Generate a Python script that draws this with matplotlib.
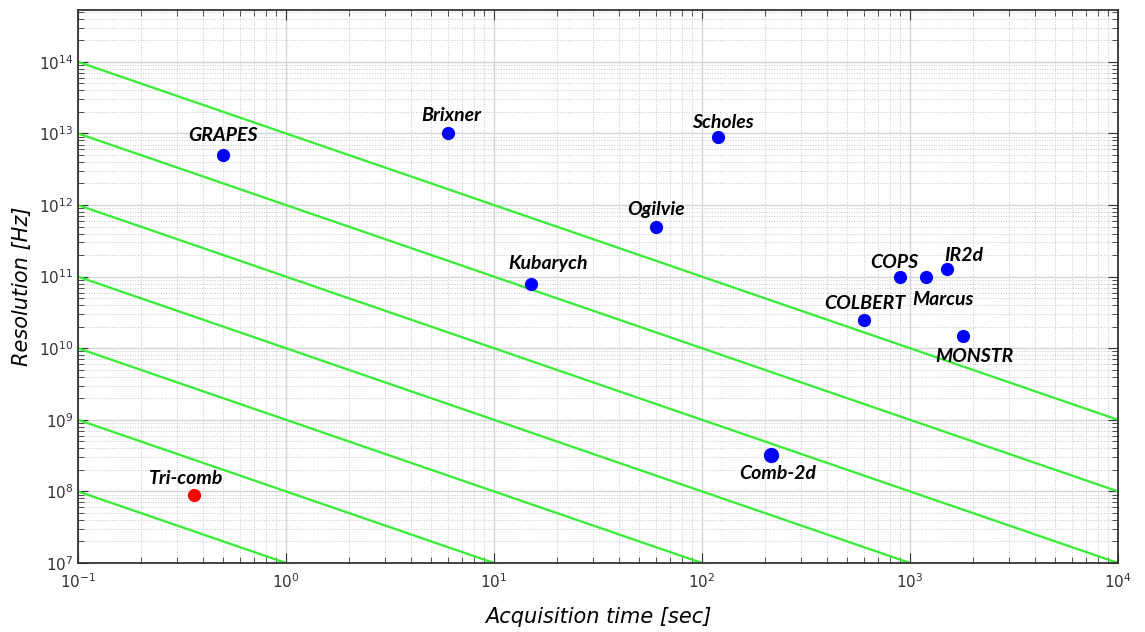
import numpy as np
import matplotlib
matplotlib.use("Agg")
import matplotlib.pyplot as plt

# experiments: acquisition time [s], resolution [Hz]
names = ["GRAPES", "Brixner", "Scholes", "Ogilvie", "Kubarych", "COPS",
         "Marcus", "IR2d", "COLBERT", "MONSTR", "Comb-2d", "Tri-comb"]
t_acq = [0.5, 6, 120, 60, 15, 900, 1200, 1500, 600, 1800, 215, 0.36]
res = [5e12, 1e13, 9e12, 5e11, 8e10, 1e11, 1e11, 1.26e11, 2.5e10, 1.5e10, 3.2e8, 9e7]
# label offsets in pixels (dx, dy)
lab_off = [(0, 19), (3, 18), (4, 14), (0, 17), (17, 20), (-6, 14),
           (16, -23), (17, 14), (1, 16), (11, -21), (6, -18), (-8, 16)]

# iso lines resolution * time = const
iso_const = [1e13, 1e12, 1e11, 1e10, 1e9, 1e8, 1e7]

fig = plt.figure(figsize=(11.45, 6.32), dpi=100)
ax = fig.add_axes([78/1145, 1 - 563/632, (1118-78)/1145, (563-10)/632])
ax.set_xscale("log")
ax.set_yscale("log")

xx = np.array([0.1, 1e4])
for c in iso_const:
    ax.plot(xx, c / xx, color="#33ee33", lw=1.6, zorder=2)

for i in range(len(names)):
    col = "red" if names[i] == "Tri-comb" else "blue"
    ms = 10 if names[i] == "Comb-2d" else 8.5
    ax.plot(t_acq[i], res[i], "o", color=col, ms=ms, zorder=3)
    ax.annotate(names[i], (t_acq[i], res[i]), xytext=lab_off[i],
                textcoords="offset pixels", ha="center", va="center",
                fontsize=14, fontweight="bold", fontstyle="italic",
                family="Lato", color="black")

ax.set_xlim(0.1, 1e4)
ax.set_ylim(1e7, 5.3e14)
ax.set_yticks([10.0**k for k in range(7, 15)])
ax.grid(True, which="major", color="#d4d4d4", lw=1.0, ls="-")
ax.grid(True, which="minor", color="#c8c8c8", lw=0.7, ls=":")
ax.tick_params(which="both", direction="in", top=True, right=True,
               colors="#333333", labelsize=11)
ax.tick_params(axis="x", pad=7)
ax.tick_params(which="major", length=7)
ax.tick_params(which="minor", length=4)
for s in ax.spines.values():
    s.set_color("#333333")
    s.set_linewidth(1.3)

ax.set_xlabel("Acquisition time [sec]", fontsize=15, fontstyle="italic", labelpad=11)
ax.set_ylabel("Resolution [Hz]", fontsize=15, fontstyle="italic", labelpad=5)

fig.savefig("out.png", dpi=100)
